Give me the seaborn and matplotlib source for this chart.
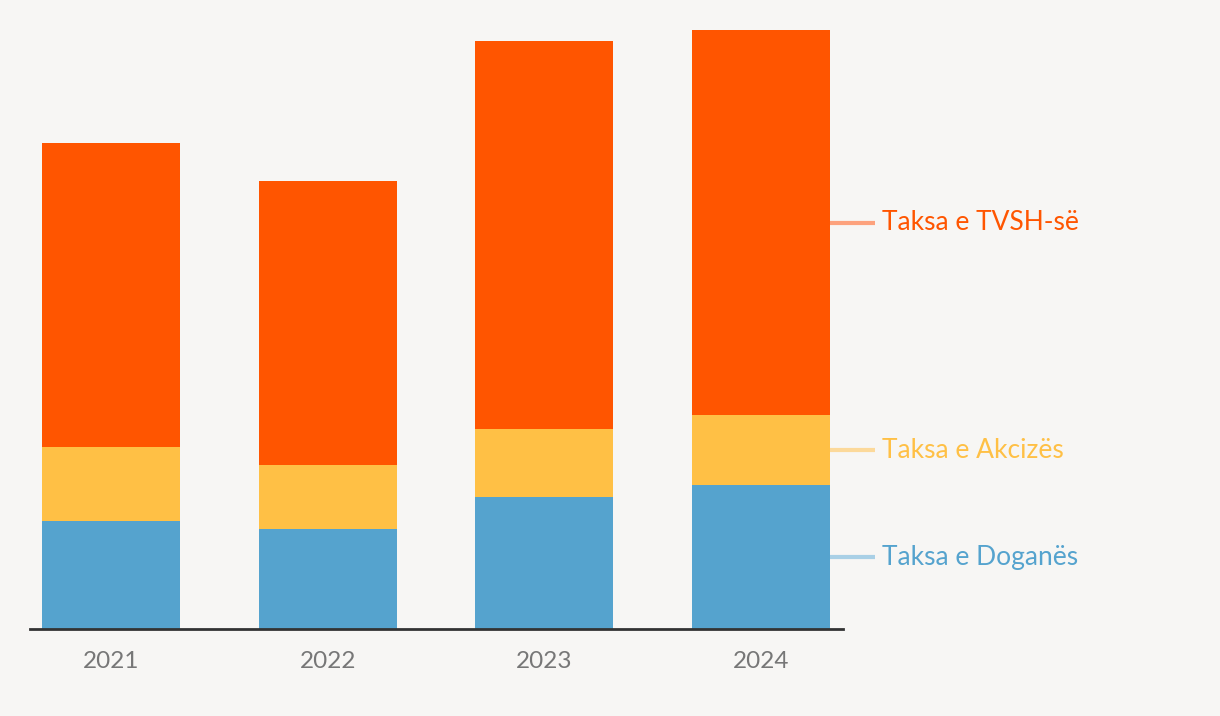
import matplotlib
matplotlib.use("Agg")
import matplotlib.pyplot as plt
import seaborn as sns
import pandas as pd
import numpy as np

years = ["2021", "2022", "2023", "2024"]
dogane = [108, 100, 132, 144]
akcize = [74, 64, 68, 70]
tvsh = [304, 284, 388, 385]

series = ["Taksa e Doganës", "Taksa e Akcizës", "Taksa e TVSH-së"]
colors = ["#55a3ce", "#ffc045", "#ff5500"]
line_colors = ["#a9d0e6", "#fcd99a", "#fda27d"]

bg = "#f7f6f4"
sns.set_theme(style="white")
plt.rcParams["font.family"] = ["Lato", "DejaVu Sans"]

fig = plt.figure(figsize=(12.2, 7.16), dpi=100, facecolor=bg)
ax = fig.add_axes([30/1220, 1-629/716, (843-30)/1220, (629-30)/716])
ax.set_facecolor(bg)

df = pd.DataFrame({"year": years, "d": dogane, "a": akcize, "t": tvsh})
bottom = np.zeros(len(years))
width = 0.637
tops = []
for i, (col, c) in enumerate(zip(["d", "a", "t"], colors)):
    vals = df[col].to_numpy(dtype=float)
    sns.barplot(x=df["year"], y=vals + bottom, color=c, width=width, ax=ax,
                saturation=1, linewidth=0, edgecolor="none", zorder=3 - i)
    tops.append((bottom.copy(), vals))
    bottom = bottom + vals

ax.set_xlim(-0.374, 3.379)
ax.set_ylim(0, 599)
for s in ["top", "right", "left"]:
    ax.spines[s].set_visible(False)
ax.spines["bottom"].set_color("#333333")
ax.spines["bottom"].set_linewidth(2)
ax.spines["bottom"].set_zorder(5)
ax.set_xlabel("")
ax.set_ylabel("")
ax.set_yticks([])
ax.tick_params(axis="x", length=0, pad=16, labelsize=17.5, labelcolor="#777777")

last = len(years) - 1
xr = last + width / 2
for (b, v), name, lc, c in zip(tops, series, line_colors, colors):
    ymid = b[last] + v[last] / 2
    ax.plot([xr, xr + 45/216.5], [ymid, ymid], color=lc, lw=3, clip_on=False,
            solid_capstyle="butt", zorder=1)
    ax.text(xr + 52/216.5, ymid, name, color=c, fontsize=19, va="center",
            ha="left", clip_on=False)

fig.savefig("out.png", dpi=100, facecolor=bg)
